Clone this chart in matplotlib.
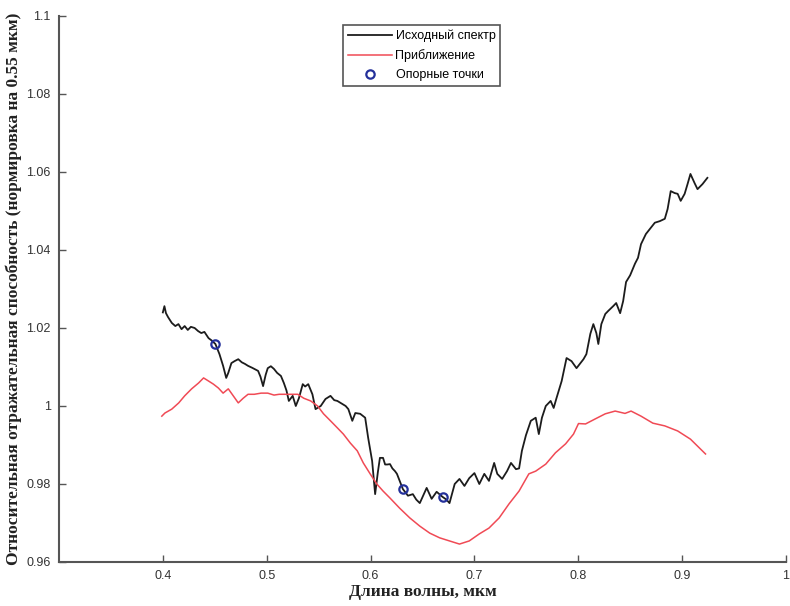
#! /usr/bin/env python

# Plotting
import matplotlib.pyplot as plt

# Wavelength grid and measured relative reflectance (original spectrum)
spec_wl = [0.400, 0.4015, 0.403, 0.405, 0.4086, 0.412, 0.415, 0.418, 0.421, 0.424,
           0.427, 0.4306, 0.434, 0.437, 0.440, 0.444, 0.447, 0.4506, 0.4545, 0.458,
           0.461, 0.463, 0.466, 0.469, 0.4726, 0.476, 0.479, 0.482, 0.486, 0.4917,
           0.494, 0.4965, 0.499, 0.501, 0.504, 0.507, 0.510, 0.5137, 0.5165, 0.519,
           0.5213, 0.525, 0.528, 0.531, 0.5347, 0.537, 0.540, 0.544, 0.547, 0.552,
           0.5566, 0.5614, 0.565, 0.568, 0.573, 0.576, 0.5786, 0.5824, 0.5853, 0.590,
           0.5948, 0.5977, 0.6015, 0.6044, 0.607, 0.609, 0.612, 0.614, 0.616, 0.6187,
           0.621, 0.6235, 0.6254, 0.628, 0.6311, 0.636, 0.6407, 0.644, 0.6474, 0.651,
           0.654, 0.6588, 0.6636, 0.6693, 0.673, 0.676, 0.681, 0.6856, 0.6904, 0.695,
           0.700, 0.7047, 0.7095, 0.714, 0.719, 0.722, 0.7267, 0.7314, 0.7352, 0.740,
           0.743, 0.7457, 0.7496, 0.7543, 0.759, 0.762, 0.765, 0.7687, 0.7734, 0.7763,
           0.779, 0.784, 0.7887, 0.7935, 0.7983, 0.805, 0.8078, 0.8116, 0.8145, 0.8174,
           0.8193, 0.8222, 0.826, 0.8289, 0.8336, 0.8365, 0.8403, 0.8432, 0.846, 0.8499,
           0.8546, 0.8575, 0.8604, 0.8651, 0.869, 0.8737, 0.8785, 0.8833, 0.886, 0.889,
           0.8928, 0.8957, 0.8986, 0.9024, 0.9052, 0.908, 0.9119, 0.9148, 0.9196, 0.9243]
spec_r = [1.0240, 1.0256, 1.0238, 1.0228, 1.0213, 1.0205, 1.0210, 1.0197, 1.0205, 1.0195,
          1.0203, 1.0200, 1.0192, 1.0187, 1.0190, 1.0174, 1.0168, 1.0159, 1.0133, 1.0103,
          1.0072, 1.0085, 1.0110, 1.0115, 1.0120, 1.0112, 1.0108, 1.0103, 1.0098, 1.0090,
          1.0075, 1.0051, 1.0080, 1.0097, 1.0102, 1.0095, 1.0085, 1.0077, 1.0059, 1.0040,
          1.0013, 1.0026, 1.0000, 1.0020, 1.0056, 1.0050, 1.0056, 1.0030, 0.9992, 1.0000,
          1.0018, 1.0026, 1.0015, 1.0013, 1.0005, 1.0000, 0.9992, 0.9962, 0.9982, 0.9980,
          0.9970, 0.9918, 0.9859, 0.9774, 0.9830, 0.9867, 0.9867, 0.9850, 0.9850, 0.9851,
          0.9840, 0.9833, 0.9826, 0.9808, 0.9787, 0.9770, 0.9774, 0.9760, 0.9751, 0.9772,
          0.9790, 0.9762, 0.9780, 0.9767, 0.9760, 0.9751, 0.9800, 0.9813, 0.9795, 0.9815,
          0.9828, 0.9800, 0.9826, 0.9808, 0.9854, 0.9826, 0.9813, 0.9833, 0.9854, 0.9838,
          0.9840, 0.9885, 0.9925, 0.9962, 0.9970, 0.9928, 0.9970, 1.0000, 1.0013, 0.9995,
          1.0020, 1.0064, 1.0123, 1.0115, 1.0097, 1.0120, 1.0133, 1.0185, 1.0210, 1.0187,
          1.0159, 1.0210, 1.0236, 1.0244, 1.0256, 1.0264, 1.0238, 1.0269, 1.0318, 1.0335,
          1.0365, 1.0380, 1.0415, 1.0441, 1.0454, 1.0470, 1.0474, 1.0480, 1.0505, 1.0551,
          1.0546, 1.0544, 1.0526, 1.0544, 1.0569, 1.0595, 1.0572, 1.0556, 1.0569, 1.0585]

# Approximation curve
fit_wl = [0.399, 0.402, 0.4086, 0.4153, 0.421, 0.4277, 0.4344, 0.4392, 0.444, 0.4487,
          0.4535, 0.458, 0.463, 0.4678, 0.4726, 0.4774, 0.482, 0.488, 0.4946, 0.501,
          0.507, 0.512, 0.5165, 0.523, 0.530, 0.5356, 0.5423, 0.549, 0.5547, 0.5614,
          0.568, 0.5738, 0.5805, 0.5872, 0.593, 0.5996, 0.606, 0.612, 0.6187, 0.628,
          0.6378, 0.6474, 0.657, 0.6665, 0.676, 0.6856, 0.695, 0.7047, 0.714, 0.7238,
          0.7333, 0.743, 0.7524, 0.759, 0.7687, 0.778, 0.7878, 0.7954, 0.8002, 0.807,
          0.8164, 0.826, 0.8355, 0.845, 0.8508, 0.8604, 0.8718, 0.8833, 0.8957, 0.908,
          0.9225]
fit_r = [0.9974, 0.9982, 0.9992, 1.0008, 1.0026, 1.0044, 1.0059, 1.0072, 1.0064, 1.0056,
         1.0046, 1.0033, 1.0044, 1.0026, 1.0008, 1.0020, 1.0030, 1.0030, 1.0033, 1.0033,
         1.0028, 1.0030, 1.0030, 1.0030, 1.0030, 1.0020, 1.0013, 1.0000, 0.9980, 0.9962,
         0.9944, 0.9928, 0.9905, 0.9885, 0.9854, 0.9826, 0.9800, 0.9782, 0.9764, 0.9738,
         0.9713, 0.9692, 0.9674, 0.9662, 0.9654, 0.9646, 0.9654, 0.9672, 0.9687, 0.9713,
         0.9749, 0.9782, 0.9826, 0.9833, 0.9851, 0.9880, 0.9903, 0.9928, 0.9955, 0.9954,
         0.9967, 0.9980, 0.9987, 0.9981, 0.9987, 0.9974, 0.9956, 0.9949, 0.9936, 0.9915,
         0.9877]

# Reference (anchor) points
anchor_wl = [0.4506, 0.6311, 0.6693]
anchor_r = [1.0159, 0.9787, 0.9767]

# Axis ticks
x_ticks = [0.4, 0.5, 0.6, 0.7, 0.8, 0.9, 1.0]
x_labels = ['0.4', '0.5', '0.6', '0.7', '0.8', '0.9', '1']
y_ticks = [0.96, 0.98, 1.0, 1.02, 1.04, 1.06, 1.08, 1.1]
y_labels = ['0.96', '0.98', '1', '1.02', '1.04', '1.06', '1.08', '1.1']

fig = plt.figure(figsize=(7.9, 6.06), dpi=100)
ax = fig.add_axes([59 / 790, 1 - 562 / 606, 727 / 790, 546 / 606])

# Curves
ax.plot(spec_wl, spec_r, color='#1c1c1c', lw=1.3, label='Исходный спектр')
ax.plot(fit_wl, fit_r, color='#f04a55', lw=1.1, label='Приближение')
ax.plot(anchor_wl, anchor_r, 'o', ls='none', ms=6, mew=1.6,
        mec='#24309a', mfc='none', label='Опорные точки')

# Axes limits and ticks
ax.set_xlim(0.3, 1.0)
ax.set_ylim(0.96, 1.1)
ax.set_xticks(x_ticks)
ax.set_xticklabels(x_labels)
ax.set_yticks(y_ticks)
ax.set_yticklabels(y_labels)
ax.tick_params(direction='in', length=5, width=1, colors='#555555',
               labelcolor='#333333', labelsize=9, pad=6)
for lab in ax.get_xticklabels() + ax.get_yticklabels():
    lab.set_family('Liberation Sans')

# Only left and bottom spines
ax.spines['top'].set_visible(False)
ax.spines['right'].set_visible(False)
ax.spines['left'].set_color('#555555')
ax.spines['bottom'].set_color('#555555')
ax.spines['left'].set_linewidth(1.5)
ax.spines['bottom'].set_linewidth(1.5)

# Axis labels
ax.set_xlabel('Длина волны, мкм', family='Liberation Serif', fontsize=12.5,
              weight='bold', color='#222222', labelpad=1)
ax.set_ylabel('Относительная отражательная способность (нормировка на 0.55 мкм)',
              family='Liberation Serif', fontsize=12.5, weight='bold',
              color='#222222', labelpad=3)

# Legend
leg = ax.legend(loc='upper left', bbox_to_anchor=(343 / 790, 1 - 25 / 606),
                bbox_transform=fig.transFigure, borderaxespad=0,
                prop={'family': 'Liberation Sans', 'size': 9},
                handlelength=3.5, handletextpad=0.3, labelspacing=0.55,
                fancybox=False, framealpha=1)
leg.get_frame().set_edgecolor('#555555')
leg.get_frame().set_linewidth(1.2)

fig.savefig('out.png', dpi=100)
